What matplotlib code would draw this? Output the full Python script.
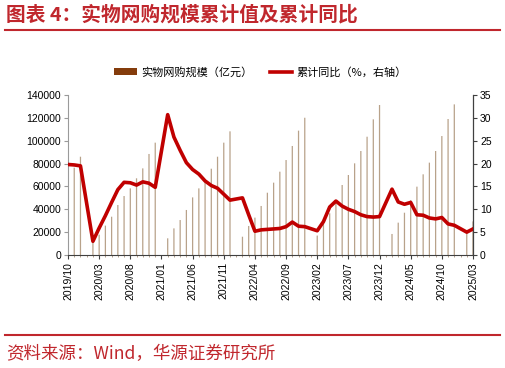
import matplotlib
matplotlib.use("Agg")
import matplotlib.pyplot as plt
from matplotlib.lines import Line2D
from matplotlib.patches import Patch

plt.rcParams['font.family'] = ['Liberation Sans', 'Noto Sans CJK SC', 'DejaVu Sans']

# cumulative data, Jan is merged into Feb so it has no point
months = ['2019/10', '2019/11', '2019/12',
          '2020/02', '2020/03', '2020/04', '2020/05', '2020/06', '2020/07', '2020/08',
          '2020/09', '2020/10', '2020/11', '2020/12',
          '2021/02', '2021/03', '2021/04', '2021/05', '2021/06', '2021/07', '2021/08',
          '2021/09', '2021/10', '2021/11', '2021/12',
          '2022/02', '2022/03', '2022/04', '2022/05', '2022/06', '2022/07', '2022/08',
          '2022/09', '2022/10', '2022/11', '2022/12',
          '2023/02', '2023/03', '2023/04', '2023/05', '2023/06', '2023/07', '2023/08',
          '2023/09', '2023/10', '2023/11', '2023/12',
          '2024/02', '2024/03', '2024/04', '2024/05', '2024/06', '2024/07', '2024/08',
          '2024/09', '2024/10', '2024/11', '2024/12',
          '2025/02', '2025/03']

scale = [68993, 76400, 86000,
         11233, 17800, 25700, 33500, 43750, 51600, 58300, 67100, 75800, 88400, 98300,
         14600, 23300, 30600, 39400, 50400, 58300, 65600, 75500, 86000, 98300, 108200,
         16000, 25400, 32700, 42900, 54500, 63300, 72900, 83100, 95400, 108800, 120100,
         17000, 27700, 36500, 47000, 61250, 70000, 80200, 91000, 103500, 118700, 131250,
         18400, 28300, 37000, 48000, 59800, 70600, 80800, 91000, 104100, 119000, 131800,
         19500, 29400]

yoy = [19.8, 19.7, 19.5,
       3.0, 5.9, 8.6, 11.5, 14.3, 15.9, 15.8, 15.3, 16.0, 15.7, 14.8,
       30.7, 25.8, 22.9, 20.2, 18.7, 17.7, 16.2, 15.2, 14.6, 13.3, 12.0,
       12.5, 8.8, 5.2, 5.5, 5.6, 5.7, 5.8, 6.2, 7.2, 6.3, 6.2,
       5.3, 7.3, 10.5, 11.8, 10.7, 10.0, 9.5, 8.8, 8.4, 8.3, 8.4,
       14.4, 11.6, 11.1, 11.5, 8.8, 8.7, 8.1, 7.9, 8.2, 6.8, 6.5,
       5.0, 5.7]

tick_labels = ['2019/10', '2020/03', '2020/08', '2021/01', '2021/06', '2021/11', '2022/04',
               '2022/09', '2023/02', '2023/07', '2023/12', '2024/05', '2024/10', '2025/03']


def month_pos(s):
    y, m = s.split('/')
    return (int(y) - 2019) * 12 + int(m) - 10


RED = '#C00000'
TITLE_RED = '#C0272D'
BAR = '#B8A28A'
CJK = ['Noto Sans CJK SC', 'DejaVu Sans']

x = [month_pos(m) for m in months]
ticks = [month_pos(t) for t in tick_labels]

fig = plt.figure(figsize=(5.06, 3.68), dpi=100)
ax = fig.add_axes([68 / 506, 1 - 255 / 368, 405 / 506, 160 / 368])
ax2 = ax.twinx()

bars = ax.bar(x, scale, width=0.2, color=BAR, linewidth=0, zorder=1)
for b in bars:
    b.set_snap(False)
ax2.plot(x, yoy, color=RED, lw=2.6, solid_joinstyle='round', zorder=3)

ax.set_xlim(0, 65)
ax.set_ylim(0, 140000)
ax2.set_ylim(0, 35)
ax.set_yticks(range(0, 140001, 20000))
ax2.set_yticks(range(0, 36, 5))
ax.set_xticks(ticks)
ax.set_xticklabels(tick_labels, rotation=90)
ax.set_xticks(range(0, 66), minor=True)

for a in (ax, ax2):
    a.spines['top'].set_visible(False)
ax.spines['left'].set_color('#9A9A9A')
ax.spines['bottom'].set_color('#404040')
ax2.spines['right'].set_color('#404040')
ax2.spines['left'].set_visible(False)
ax2.spines['bottom'].set_visible(False)

ax.tick_params(axis='y', labelsize=7.5, length=3, color='#9A9A9A', pad=2)
ax.tick_params(axis='x', which='major', labelsize=7.5, length=3, color='#404040', pad=2)
ax.tick_params(axis='x', which='minor', length=1.5, color='#A89078')
ax2.tick_params(axis='y', labelsize=7.5, length=3, color='#404040', pad=2)

# legend on top
handles = [Patch(facecolor='#843C0C', edgecolor='none'),
           Line2D([], [], color=RED, lw=2.6)]
labels = ['实物网购规模（亿元）', '累计同比（%，右轴）']
fig.legend(handles, labels, loc='center', bbox_to_anchor=(0.515, 1 - 72 / 368),
           ncol=2, frameon=False, prop={'family': CJK, 'size': 8},
           handlelength=2.0, handletextpad=0.4, columnspacing=1.6)

# title and source
fig.text(0.012, 1 - 15 / 368, '图表 4：实物网购规模累计值及累计同比', color=TITLE_RED,
         fontsize=14.2, fontweight='bold', family=CJK, va='center', ha='left')
fig.add_artist(Line2D([5 / 506, 500 / 506], [1 - 29.5 / 368] * 2, color=TITLE_RED, lw=1.5))
fig.add_artist(Line2D([5 / 506, 500 / 506], [1 - 335 / 368] * 2, color=TITLE_RED, lw=1.5))
fig.text(0.012, 1 - 354 / 368, '资料来源：Wind，华源证券研究所', color=TITLE_RED,
         fontsize=12.6, family=CJK, va='center', ha='left')

fig.savefig('out.png', dpi=100)
